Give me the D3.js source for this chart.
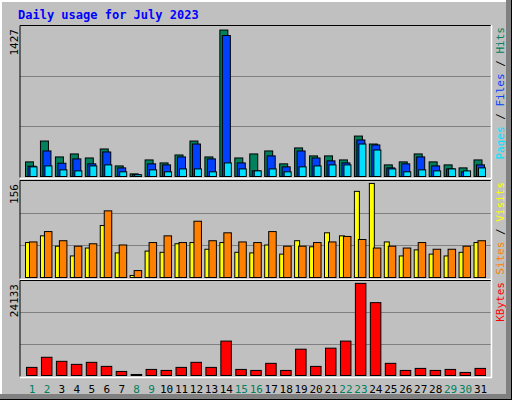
<!DOCTYPE html>
<html>
<head>
<meta charset="utf-8">
<script src="https://cdn.jsdelivr.net/npm/d3@7"></script>
<style>body{margin:0;background:#fff}</style>
</head>
<body>
<script>
"use strict";

var days = d3.range(1, 32),
    weekendDays = [1, 2, 8, 9, 15, 16, 22, 23, 29, 30],
    hits = [151, 353, 199, 228, 189, 276, 112, 35, 170, 141, 218, 353, 199, 1427, 189, 228, 257, 132, 286, 209, 209, 170, 401, 324, 122, 151, 228, 151, 122, 93, 170],
    files = [109, 257, 138, 180, 132, 247, 93, 29, 132, 122, 199, 324, 180, 1374, 141, 64, 209, 103, 257, 189, 161, 141, 363, 315, 93, 132, 199, 112, 83, 55, 122],
    pages = [103, 112, 74, 64, 112, 122, 55, 26, 74, 55, 83, 83, 55, 141, 83, 64, 83, 55, 103, 112, 122, 122, 324, 266, 83, 55, 74, 64, 83, 64, 93],
    visits = [59, 70, 53, 37, 50, 87, 42, 5, 45, 43, 57, 59, 48, 59, 43, 42, 55, 40, 62, 52, 75, 70, 143, 156, 60, 37, 47, 40, 37, 43, 59],
    sites = [60, 77, 62, 53, 57, 111, 55, 13, 59, 70, 59, 94, 62, 75, 60, 59, 77, 53, 53, 59, 60, 69, 64, 50, 53, 50, 59, 48, 48, 53, 62],
    kbytes = [2360, 4982, 3933, 3146, 3671, 2622, 1311, 524, 1835, 1573, 2360, 3671, 2360, 9177, 1835, 1573, 3409, 1573, 7079, 2622, 7342, 9177, 24133, 19141, 3409, 1573, 2098, 1573, 1835, 1049, 2098];

var W = 512, H = 400, left = 20, right = 491;
var mono = "'DejaVu Sans Mono', monospace";

var svg = d3.select("body").append("svg").attr("width", W).attr("height", H);

// bevelled frame
svg.append("rect").attr("width", W).attr("height", H).attr("fill", "#c0c0c0");
svg.append("path").attr("d", "M0,0H" + (W - 1) + "M0,0V" + (H - 1)).attr("stroke", "#fff").attr("stroke-width", 4);
svg.append("path").attr("d", "M" + (W - 3) + ",0V" + H + "M0," + (H - 3) + "H" + W).attr("stroke", "#808080").attr("stroke-width", 6);
svg.append("path").attr("d", "M" + (W - 0.5) + ",0V" + H + "M0," + (H - 0.5) + "H" + W).attr("stroke", "#000");

svg.append("text").attr("x", 18).attr("y", 19).text("Daily usage for July 2023")
    .attr("font-family", mono).attr("font-weight", "bold").attr("font-size", 12).attr("fill", "#0000ff");

var x = d3.scaleLinear().domain([1, 32]).range([25, 25 + 31 * 14.95]);

function panel(top, bottom, max, series, labels) {
    var y = d3.scaleLinear().domain([0, max]).range([bottom, bottom - (bottom - top) * 0.97]);
    var g = svg.append("g");
    [1, 2].forEach(function (k) {
        var gy = Math.round(bottom - (bottom - top) * k / 3) + 0.5;
        g.append("line").attr("x1", left).attr("x2", right).attr("y1", gy).attr("y2", gy).attr("stroke", "#808080");
    });
    series.forEach(function (s) {
        g.selectAll(null).data(s.values).enter().append("rect")
            .attr("x", function (d, i) { return x(days[i]) + s.off + 0.5; })
            .attr("width", s.w)
            .attr("y", function (d) { return y(d) + 0.5; })
            .attr("height", function (d) { return Math.max(0, bottom - y(d) - 1); })
            .attr("fill", s.color).attr("stroke", "#000");
    });
    g.append("path").attr("d", "M" + left + "," + (bottom + 0.5) + "V" + (top + 0.5) + "H" + right)
        .attr("stroke", "#000").attr("fill", "none");
    g.append("path").attr("d", "M" + (right + 0.5) + "," + top + "V" + (bottom + 1.5) + "H" + left)
        .attr("stroke", "#fff").attr("stroke-width", 1.5).attr("fill", "none");
    g.append("text").attr("transform", "translate(18," + (top + 4) + ") rotate(-90)")
        .attr("text-anchor", "end").attr("font-family", mono).attr("font-size", 11).text(max);
    var t = g.append("text").attr("transform", "translate(504," + (top + 2) + ") rotate(-90)")
        .attr("text-anchor", "end").attr("font-family", mono).attr("font-size", 11);
    labels.forEach(function (l, i) {
        if (i) t.append("tspan").attr("fill", "#000").text(" / ");
        t.append("tspan").attr("fill", l[1]).text(l[0]);
    });
}

panel(25, 177, 1427, [
    { values: hits, color: "#00805c", off: 0, w: 8 },
    { values: files, color: "#0040ff", off: 2.5, w: 8 },
    { values: pages, color: "#00e0ff", off: 4.5, w: 7 }
], [["Pages", "#00e0ff"], ["Files", "#0040ff"], ["Hits", "#00805c"]]);

panel(180, 278, 156, [
    { values: visits, color: "#ffff00", off: 0, w: 5 },
    { values: sites, color: "#ff8000", off: 4, w: 7.5 }
], [["Sites", "#ff8000"], ["Visits", "#ffff00"]]);

panel(280, 376, 24133, [
    { values: kbytes, color: "#ff0000", off: 1, w: 10.5 }
], [["KBytes", "#ff0000"]]);

svg.selectAll(null).data(days).enter().append("text")
    .attr("x", function (d) { return x(d) + 7; }).attr("y", 393)
    .attr("text-anchor", "middle").attr("font-family", mono).attr("font-size", 11)
    .attr("fill", function (d) { return weekendDays.indexOf(d) >= 0 ? "#00805c" : "#000"; })
    .text(function (d) { return d; });
</script>
</body>
</html>
